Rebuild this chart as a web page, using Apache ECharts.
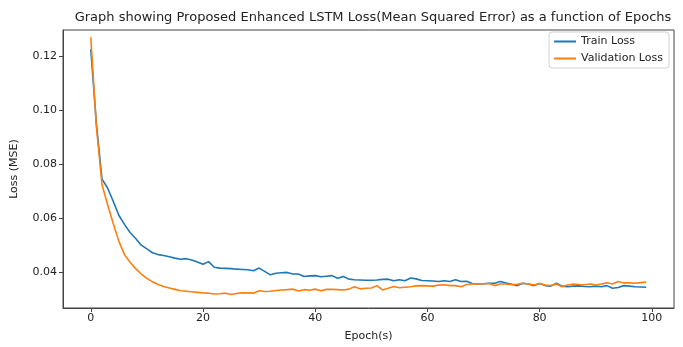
<!DOCTYPE html>
<html>
<head>
<meta charset="utf-8">
<script src="https://cdn.jsdelivr.net/npm/echarts@6/dist/echarts.min.js"></script>
<style>
  html, body { margin: 0; padding: 0; background: #fff; }
  #chart { width: 683px; height: 347px; }
</style>
</head>
<body>
<div id="chart"></div>
<script>
// values, one per epoch (0..99)
const trainLoss = [
  0.1227, 0.0950, 0.0745, 0.0712, 0.0663, 0.0611, 0.0577, 0.0547, 0.0525, 0.0500,
  0.0486, 0.0472, 0.0465, 0.0462, 0.0457, 0.0452, 0.0448, 0.0450, 0.0445, 0.0438,
  0.0429, 0.0439, 0.0418, 0.0415, 0.0414, 0.0413, 0.0411, 0.0410, 0.0409, 0.0405,
  0.0415, 0.0403, 0.0390, 0.0396, 0.0398, 0.0399, 0.0393, 0.0393, 0.0384, 0.0386,
  0.0387, 0.0383, 0.0385, 0.0387, 0.0377, 0.0384, 0.0374, 0.0372, 0.0371, 0.0370,
  0.0370, 0.0371, 0.0373, 0.0374, 0.0368, 0.0372, 0.0368, 0.0378, 0.0375, 0.0369,
  0.0368, 0.0367, 0.0365, 0.0368, 0.0365, 0.0372, 0.0365, 0.0366, 0.0358, 0.0356,
  0.0357, 0.0359, 0.0359, 0.0365, 0.0360, 0.0355, 0.0350, 0.0359, 0.0356, 0.0350,
  0.0358, 0.0350, 0.0348, 0.0359, 0.0348, 0.0346, 0.0348, 0.0349, 0.0347, 0.0346,
  0.0348, 0.0346, 0.0350, 0.0340, 0.0343, 0.0350, 0.0348, 0.0346, 0.0345, 0.0344
];
const valLoss = [
  0.1271, 0.0940, 0.0725, 0.0650, 0.0580, 0.0515, 0.0465, 0.0437, 0.0413, 0.0393,
  0.0377, 0.0364, 0.0354, 0.0347, 0.0341, 0.0336, 0.0331, 0.0329, 0.0327, 0.0325,
  0.0323, 0.0322, 0.0319, 0.0320, 0.0322, 0.0317, 0.0321, 0.0323, 0.0323, 0.0322,
  0.0331, 0.0328, 0.0329, 0.0332, 0.0334, 0.0335, 0.0337, 0.0330, 0.0335, 0.0333,
  0.0337, 0.0331, 0.0336, 0.0336, 0.0335, 0.0334, 0.0337, 0.0346, 0.0338, 0.0340,
  0.0341, 0.0350, 0.0334, 0.0340, 0.0347, 0.0342, 0.0344, 0.0346, 0.0349, 0.0350,
  0.0349, 0.0348, 0.0352, 0.0353, 0.0350, 0.0350, 0.0346, 0.0354, 0.0356, 0.0356,
  0.0357, 0.0358, 0.0350, 0.0356, 0.0356, 0.0353, 0.0355, 0.0359, 0.0356, 0.0352,
  0.0358, 0.0352, 0.0350, 0.0356, 0.0346, 0.0352, 0.0356, 0.0354, 0.0353, 0.0356,
  0.0352, 0.0356, 0.0361, 0.0356, 0.0365, 0.0360, 0.0360, 0.0359, 0.0361, 0.0363
];
const xTicks = [0, 20, 40, 60, 80, 100];
const yTicks = [0.04, 0.06, 0.08, 0.10, 0.12];

const FONT = 'DejaVu Sans';
const chart = echarts.init(document.getElementById('chart'));

const toPairs = (arr) => arr.map((v, i) => [i, v]);

const options = {
  animation: false,
  textStyle: { fontFamily: FONT },
  title: {
    text: 'Graph showing Proposed Enhanced LSTM Loss(Mean Squared Error) as a function of Epochs',
    left: 368,
    textAlign: 'center',
    top: 6,
    textStyle: { fontFamily: FONT, fontSize: 13, fontWeight: 'normal', color: '#222' }
  },
  legend: {
    orient: 'vertical',
    right: 14,
    top: 32,
    icon: 'rect',
    itemWidth: 22,
    itemHeight: 2,
    itemGap: 6,
    padding: [4, 6, 4, 5],
    borderColor: '#d0d0d0',
    borderWidth: 1,
    borderRadius: 3,
    textStyle: { fontFamily: FONT, fontSize: 11, color: '#222' },
    data: ['Train Loss', 'Validation Loss']
  },
  grid: {
    left: 63, right: 9, top: 30, bottom: 36,
    show: true,
    borderColor: '#444',
    borderWidth: 1
  },
  xAxis: {
    type: 'value',
    min: -4.95,
    max: 103.95,
    name: 'Epoch(s)',
    nameLocation: 'middle',
    nameGap: 23,
    nameTextStyle: { fontFamily: FONT, fontSize: 11, color: '#222' },
    axisLine: { show: true, onZero: false, lineStyle: { color: '#444' } },
    axisTick: { show: true, customValues: xTicks, length: 4, lineStyle: { color: '#444' } },
    axisLabel: { customValues: xTicks, fontSize: 11, color: '#222', margin: 5 },
    splitLine: { show: false }
  },
  yAxis: {
    type: 'value',
    min: 0.0267,
    max: 0.1298,
    name: 'Loss (MSE)',
    nameLocation: 'middle',
    nameGap: 43,
    nameTextStyle: { fontFamily: FONT, fontSize: 11, color: '#222' },
    axisLine: { show: true, onZero: false, lineStyle: { color: '#444' } },
    axisTick: { show: true, customValues: yTicks, length: 4, lineStyle: { color: '#444' } },
    axisLabel: {
      customValues: yTicks, fontSize: 11, color: '#222', margin: 6,
      formatter: (v) => v.toFixed(2)
    },
    splitLine: { show: false }
  },
  series: [
    {
      name: 'Train Loss',
      type: 'line',
      data: toPairs(trainLoss),
      showSymbol: false,
      color: '#1f77b4',
      lineStyle: { width: 1.6, color: '#1f77b4' }
    },
    {
      name: 'Validation Loss',
      type: 'line',
      data: toPairs(valLoss),
      showSymbol: false,
      color: '#ff7f0e',
      lineStyle: { width: 1.6, color: '#ff7f0e' }
    }
  ]
};

chart.setOption(options);
</script>
</body>
</html>
